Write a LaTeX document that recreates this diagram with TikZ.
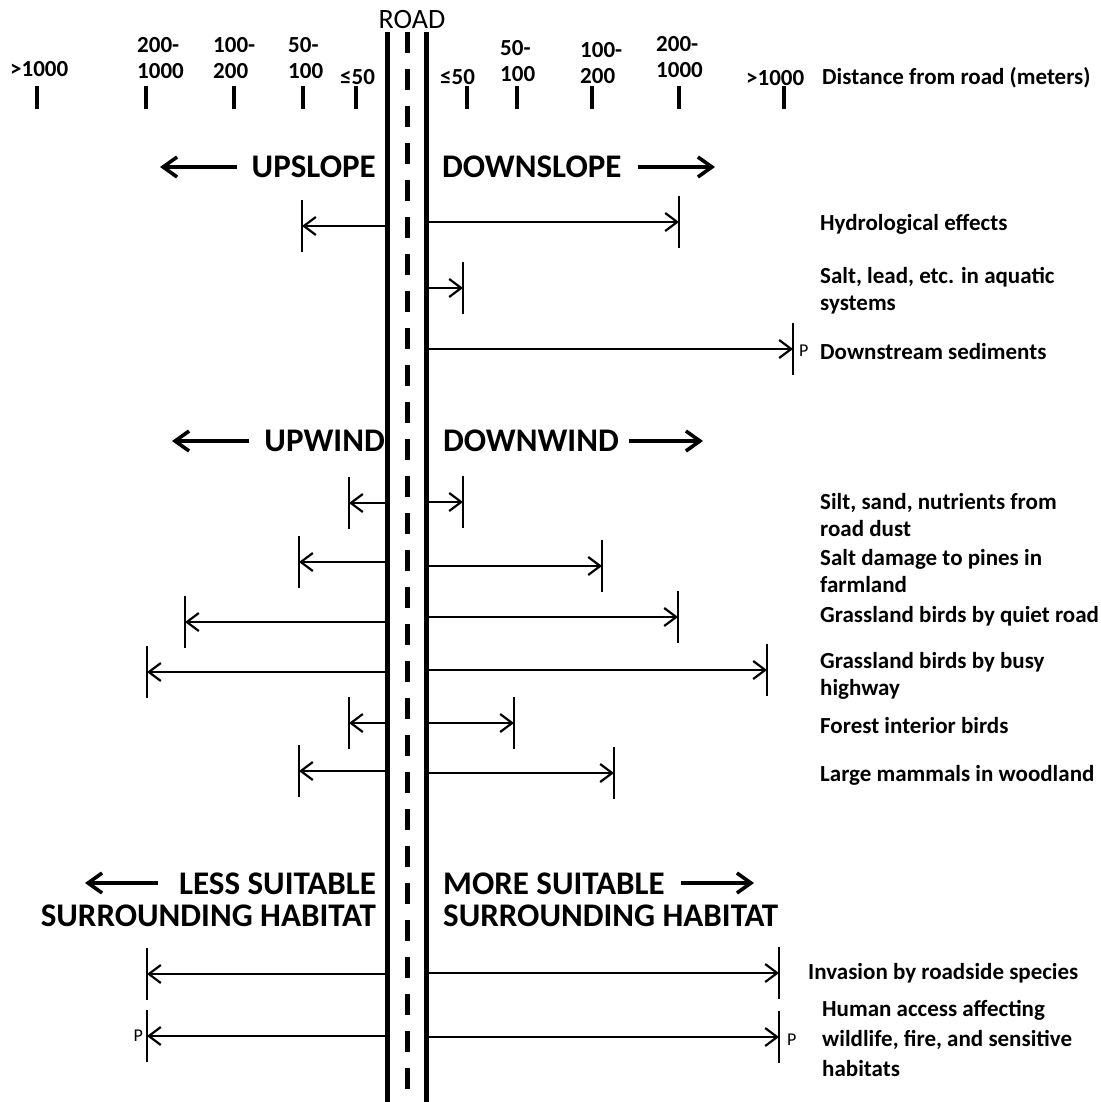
\documentclass[tikz,border=0pt]{standalone}
\usepackage{fontspec}
\setmainfont{Carlito}
\usetikzlibrary{arrows.meta}
\begin{document}
\begin{tikzpicture}[x=1pt,y=-1pt,
  lab/.style={font=\fontsize{23}{27}\selectfont\bfseries, anchor=west, align=left, inner sep=0pt},
  toplab/.style={font=\fontsize{23}{26}\selectfont\bfseries, anchor=west, align=left, inner sep=0pt},
  big/.style={font=\fontsize{33}{32}\selectfont\bfseries, inner sep=0pt},
  plab/.style={font=\fontsize{18}{18}\selectfont, inner sep=0pt},
  tickmark/.style={line width=4pt},
  roadline/.style={line width=5pt},
  roaddash/.style={line width=5pt, dash pattern=on 21pt off 16pt},
  arr/.style={line width=2.2pt, -{Straight Barb[length=12pt,width=18pt]}},
  dirarr/.style={line width=3.6pt, -{Straight Barb[length=14pt,width=20pt]}},
  endbar/.style={line width=2.2pt}]
\useasboundingbox (0,0) rectangle (1100,1102);
% road
\draw[roadline] (387,32) -- (387,1102);
\draw[roadline] (426,32) -- (426,1102);
\draw[roaddash] (407,32) -- (407,1102);
\node[font=\fontsize{28}{28}\selectfont, inner sep=0pt] (road) at (412,20) {ROAD};
% distance scale
\foreach \x in {37,146,234,303,356,467,517,592,679,784}
  \draw[tickmark] (\x,86) -- (\x,109);
\node[toplab] (dL5) at (10,69) {>1000};
\node[toplab] (dL4) at (137,58) {200-\\1000};
\node[toplab] (dL3) at (213,58) {100-\\200};
\node[toplab] (dL2) at (288,58) {50-\\100};
\node[toplab] (dL1) at (340,77) {≤50};
\node[toplab] (dR1) at (440,77) {≤50};
\node[toplab] (dR2) at (500,61) {50-\\100};
\node[toplab] (dR3) at (580,63) {100-\\200};
\node[toplab] (dR4) at (656,57) {200-\\1000};
\node[toplab] (dR5) at (746,78) {>1000};
\node[toplab] (dist) at (822,78) {Distance from road (meters)};
% section headings
\node[big, anchor=east] (upslope) at (376,167) {UPSLOPE};
\coordinate (upA) at (160,167);
\draw[dirarr] ([xshift=-15pt]upslope.west) -- (upA);
\node[big, anchor=west] (downslope) at (442,167) {DOWNSLOPE};
\coordinate (downA) at (715,167);
\draw[dirarr] ([xshift=16pt]downslope.east) -- (downA);
\node[big, anchor=east] (upwind) at (385,441) {UPWIND};
\coordinate (upwA) at (172,441);
\draw[dirarr] ([xshift=-15pt]upwind.west) -- (upwA);
\node[big, anchor=west] (downwind) at (443,441) {DOWNWIND};
\coordinate (downwA) at (703,441);
\draw[dirarr] ([xshift=10pt]downwind.east) -- (downwA);
\node[big, anchor=east, align=right] (less) at (376,900) {LESS SUITABLE\\SURROUNDING HABITAT};
\coordinate (lessA0) at (158,883); \coordinate (lessA1) at (85,883);
\draw[dirarr] (lessA0) -- (lessA1);
\node[big, anchor=west, align=left] (more) at (443,900) {MORE SUITABLE\\SURROUNDING HABITAT};
\coordinate (moreA0) at (681,883); \coordinate (moreA1) at (754,883);
\draw[dirarr] (moreA0) -- (moreA1);
% effect rows: left (L) and right (R) extents
\foreach \n/\y/\t in {hy/226/302, si/503/349, sp/562/299, gq/622/185, gb/672/147, fi/723/349, lm/771/299, inv/974/147, ha/1036/147}{
  \coordinate (\n L0) at (387,\y);
  \coordinate (\n L1) at (\t,\y);
  \draw[arr] (\n L0) -- (\n L1);
  \draw[endbar] ([yshift=-26pt]\n L1) -- ([yshift=26pt]\n L1);
}
\foreach \n/\y/\t in {hy/222/679, sl/288/463, ds/349/793, si/502/463, sp/566/602, gq/617/678, gb/670/767, fi/723/514, lm/773/614, inv/973/779, ha/1037/779}{
  \coordinate (\n R0) at (426,\y);
  \coordinate (\n R1) at (\t,\y);
  \draw[arr] (\n R0) -- (\n R1);
  \draw[endbar] ([yshift=-26pt]\n R1) -- ([yshift=26pt]\n R1);
}
\node[plab, anchor=west] (pds) at (799,351) {P};
\node[plab, anchor=east] (phaL) at (143,1036) {P};
\node[plab, anchor=west] (phaR) at (787,1040) {P};
% effect labels
\node[lab] (tHy) at (820,224) {Hydrological effects};
\node[lab] (tSl) at (820,291) {Salt, lead, etc. in aquatic\\systems};
\node[lab] (tDs) at (820,352) {Downstream sediments};
\node[lab] (tSi) at (820,515) {Silt, sand, nutrients from\\road dust};
\node[lab] (tSp) at (820,571) {Salt damage to pines in\\farmland};
\node[lab] (tGq) at (820,616) {Grassland birds by quiet road};
\node[lab] (tGb) at (820,676) {Grassland birds by busy\\highway};
\node[lab] (tFi) at (820,726) {Forest interior birds};
\node[lab] (tLm) at (820,775) {Large mammals in woodland};
\node[lab] (tInv) at (808,973) {Invasion by roadside species};
\node[lab, font=\fontsize{23}{30}\selectfont\bfseries] (tHa) at (822,1038) {Human access affecting\\wildlife, fire, and sensitive\\habitats};
\end{tikzpicture}
\end{document}
